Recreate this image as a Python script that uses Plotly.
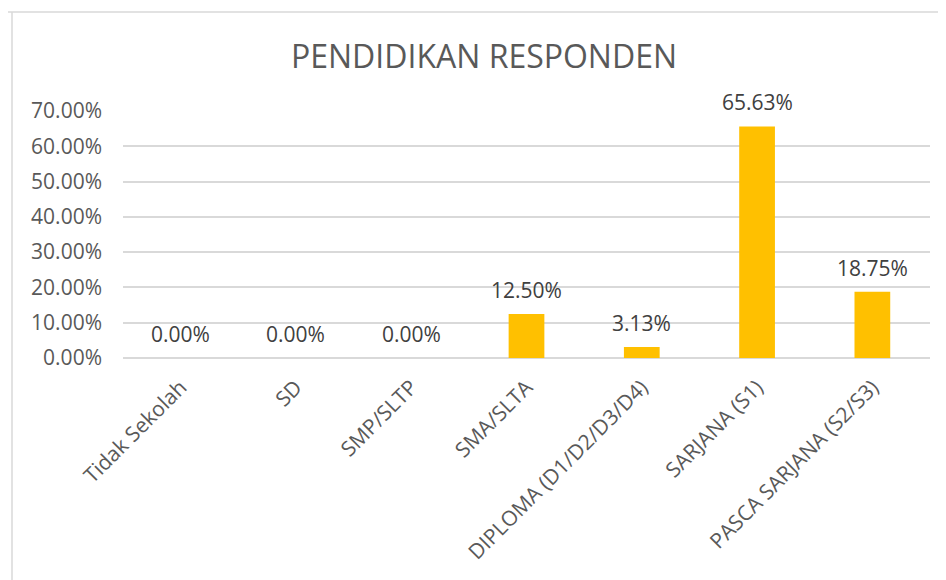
import plotly.graph_objects as go

categories = ["Tidak Sekolah", "SD", "SMP/SLTP", "SMA/SLTA", "DIPLOMA (D1/D2/D3/D4)",
              "SARJANA (S1)", "PASCA SARJANA (S2/S3)"]
values = [0.0, 0.0, 0.0, 0.125, 0.0313, 0.6563, 0.1875]
y_ticks = [0.0, 0.1, 0.2, 0.3, 0.4, 0.5, 0.6, 0.7]
title_text = "PENDIDIKAN RESPONDEN"

FONT = "Open Sans"
OFF = 8  # default page body margin
W, H = 946 - OFF, 580 - OFF
L, R, T, B = 123 - OFF, 16, 111 - OFF, 222
pw = W - L - R
ph = H - T - B

fig = go.Figure()
fig.add_trace(go.Bar(
    x=categories, y=values,
    marker=dict(color="#FFC000", line=dict(width=0)),
    width=0.31,
    hoverinfo="skip",
))

for c, v in zip(categories, values):
    fig.add_annotation(
        x=c, y=v, xref="x", yref="y",
        text=f"{v*100:.2f}%", showarrow=False,
        yanchor="middle", yshift=24,
        font=dict(family=FONT, size=21, color="#404040"),
    )

# chart border (top and left only visible)
top_y = 1 + (T - (12 - OFF)) / ph
left_x = (12 - OFF - L) / pw
fig.add_shape(type="line", xref="paper", yref="paper",
              x0=(0 - L) / pw, x1=(W + 5 - L) / pw, y0=top_y, y1=top_y,
              line=dict(color="#D9D9D9", width=1.5))
fig.add_shape(type="line", xref="paper", yref="paper",
              x0=left_x, x1=left_x, y0=top_y, y1=-(B + 5) / ph,
              line=dict(color="#D9D9D9", width=1.5))

fig.update_layout(
    width=W, height=H,
    margin=dict(l=L, r=R, t=T, b=B, autoexpand=False),
    paper_bgcolor="white", plot_bgcolor="white",
    showlegend=False,
    title=dict(text=title_text, x=(484 - OFF) / W, xanchor="center",
               y=1 - (57 - OFF) / H, yanchor="middle",
               font=dict(family=FONT, size=32, color="#595959")),
    xaxis=dict(
        tickangle=-45, tickfont=dict(family=FONT, size=21, color="#595959"),
        showgrid=False, showline=False, ticks="", automargin=False,
        ticklabelstandoff=12,
    ),
    yaxis=dict(
        range=[0, 0.7], tickvals=y_ticks, tickformat=".2%",
        tickfont=dict(family=FONT, size=21, color="#595959"),
        showgrid=True, gridcolor="#D9D9D9", gridwidth=1.5,
        zeroline=True, zerolinecolor="#D9D9D9", zerolinewidth=1.5,
        showline=False, ticks="", ticklabelstandoff=20, automargin=False,
    ),
)

fig.write_html("out.html")
